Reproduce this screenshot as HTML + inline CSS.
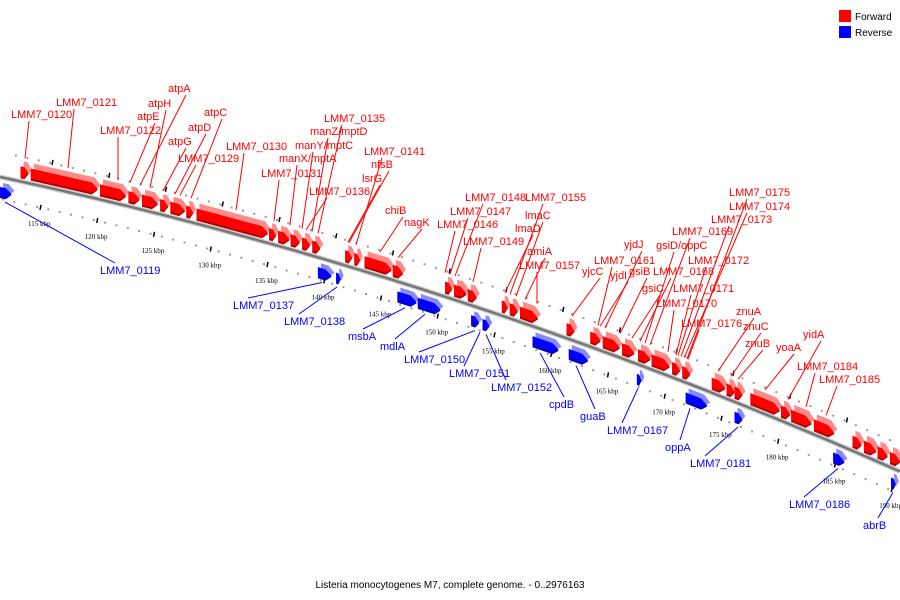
<!DOCTYPE html>
<html><head><meta charset="utf-8"><style>
body{margin:0;background:#fff;width:900px;height:600px;overflow:hidden}
svg{display:block;font-family:"Liberation Sans","DejaVu Sans",sans-serif}
</style></head><body>
<svg id="map" width="900" height="600">
<g id="legend">
<rect x="839" y="10" width="12" height="12" fill="#f00"/>
<text x="855" y="20" font-size="10">Forward</text>
<rect x="839" y="26" width="12" height="12" fill="#00f"/>
<text x="855" y="36" font-size="10">Reverse</text>
</g>
<text x="450" y="588" font-size="10" text-anchor="middle">Listeria monocytogenes M7, complete genome. - 0..2976163</text>
</svg>
<script>
// forward genes (kbp)
const fwdStart=[113.2,114.1,120.2,122.7,123.9,125.5,126.4,127.8,128.7,135.1,135.9,137.0,138.0,138.9,141.8,142.6,143.5,146.0,150.6,151.4,152.6,155.6,156.3,157.2,161.3,163.4,164.5,166.2,167.6,168.8,170.6,171.5,174.1,175.4,176.1,177.5,180.2,181.1,183.1,186.5,187.5,188.7,189.8];
const fwdEnd=[113.9,120.0,122.5,123.7,125.3,126.2,127.7,128.4,135.0,135.7,136.9,137.8,138.7,139.6,142.4,143.1,145.9,146.9,151.2,152.5,153.4,156.1,157.0,158.8,162.0,164.3,166.0,167.3,168.7,170.4,171.3,172.2,175.3,176.1,176.8,180.1,181.0,182.9,184.9,187.3,188.6,189.6,190.7];
// reverse genes (kbp)
const revStart=[111.4,139.4,141.0,146.4,148.2,152.9,153.9,158.3,161.5,167.5,171.8,176.1,184.8,189.9];
const revEnd=[112.4,140.6,141.4,148.1,150.2,153.6,154.5,160.6,163.2,167.9,173.7,176.8,185.8,190.3];
const scaleTicks=[115,120,125,130,135,140,145,150,155,160,165,170,175,180,185,190];
const fwdLabels=["LMM7_0120","LMM7_0121","atpA","atpH","atpE","LMM7_0122","atpG","atpD","atpC","LMM7_0129","LMM7_0130","LMM7_0131","manX/mptA","manY/mptC","manZ/mptD","LMM7_0135","LMM7_0141","nfsB","lsrG","LMM7_0136","chiB","nagK","LMM7_0148","LMM7_0155","LMM7_0147","lmaC","LMM7_0146","lmaD","LMM7_0149","amiA","LMM7_0157","yjcC","LMM7_0161","yjdJ","yjdI","gsiB","gsiD/oppC","LMM7_0169","LMM7_0175","LMM7_0174","LMM7_0173","LMM7_0172","LMM7_0168","gsiC","LMM7_0171","LMM7_0170","LMM7_0176","znuA","znuC","znuB","yoaA","yidA","LMM7_0184","LMM7_0185"];
const fwdLabelPos=[[11,118],[56,106],[168,92],[148,107],[137,120],[100,134],[168,145],[188,131],[204,116],[178,162],[226,150],[261,177],[279,162],[295,149],[310,135],[324,122],[364,155],[371,168],[362,182],[309,195],[385,214],[404,226],[465,201],[525,201],[450,215],[525,219],[437,228],[515,232],[463,245],[527,255],[519,269],[582,275],[594,264],[624,248],[610,279],[629,275],[656,249],[672,235],[729,196],[729,210],[711,223],[688,264],[653,275],[642,292],[673,292],[656,307],[681,327],[736,315],[743,330],[745,347],[776,351],[803,338],[797,370],[819,383]];
const fwdLabelTarget=[25,68,140,150,130,118,163,175,191,180,236,274,290,302,312,318,356,349,348,306,380,398,455,510,450,516,445,505,473,525,537,572,598,605,600,620,645,650,687,684,681,678,640,632,676,668,688,718,731,738,765,788,806,826];
const revLabels=["LMM7_0119","LMM7_0137","LMM7_0138","msbA","mdlA","LMM7_0150","LMM7_0151","LMM7_0152","cpdB","guaB","LMM7_0167","oppA","LMM7_0181","LMM7_0186","abrB"];
const revLabelPos=[[100,274],[233,309],[284,325],[348,340],[380,350],[404,363],[449,377],[491,391],[549,408],[580,420],[607,434],[665,451],[690,467],[789,508],[863,529]];
const revLabelTarget=[5,322,337,405,425,475,480,486,540,576,638,690,738,838,893];

const NS="http://www.w3.org/2000/svg";
const svg=document.getElementById('map');
function X(k){return 41+(k-115)*11.35;}
function Y(x){return 177+0.212*x+0.000128*x*x;}
function mk(tag,attrs,parent){const e=document.createElementNS(NS,tag);for(const a in attrs)e.setAttribute(a,attrs[a]);(parent||svg).appendChild(e);return e;}
const gAxis=mk('g',{});


let d='';for(let x=0;x<=900;x+=10){d+=(x?'L':'M')+x+','+Y(x).toFixed(1);}
mk('path',{d:d,stroke:'#ccc',"stroke-width":5,fill:'none'},gAxis);
mk('path',{d:d,stroke:'#777',"stroke-width":2.5,fill:'none'},gAxis);
for(let k=111;k<=191;k++){const x=X(k);if(x<0||x>900)continue;
 const y=Y(x);
 mk('rect',{x:x+8,y:y-24,width:2,height:2,fill:'#999'},gAxis);
 mk('rect',{x:x-5,y:y+20,width:2,height:2,fill:'#999'},gAxis);}
scaleTicks.forEach(k=>{const x=X(k),y=Y(x);
 const t=mk('line',{x1:x,y1:y+19,x2:x-1,y2:y+24,stroke:'#000',"stroke-width":1.5},gAxis);
 
 
 mk('line',{x1:x+12,y1:y-26,x2:x+11,y2:y-21,stroke:'#000',"stroke-width":1.5},gAxis);
 const lb=mk('text',{x:x-13,y:y+40,"font-size":7,"font-family":"Liberation Serif,serif",fill:'#000'},gAxis);
 lb.textContent=k+' kbp';
 
 
});
function gene(a,b,dir,i){
 const x1=Math.max(X(a),-2),x2=X(b);
 const g=mk('g',{});
 
 
 const tip=Math.min(6,(x2-x1)*0.5);
 const o=dir>0?[-20,-15,-3]:[6,10,21];
 const col=dir>0?['#ff8a8a','#f00','#a00']:['#8a8aff','#00f','#00a'];
 function poly(t,bt,c,dx){const xs=x2-tip;
  const p=[[x1+dx,Y(x1)+t],[xs+dx,Y(xs)+t],[x2+dx,Y(x2)+(t+bt)/2],[xs+dx,Y(xs)+bt],[x1+dx,Y(x1)+bt]];
  mk('polygon',{points:p.map(q=>q[0].toFixed(1)+','+q[1].toFixed(1)).join(' '),fill:c},g);}
 poly(o[0],o[2]-4,col[0],3);
 poly(o[1],o[2],col[2],0);
 poly(o[1],o[2]-2,col[1],0);
}
fwdStart.forEach((s,i)=>gene(s,fwdEnd[i],1,i));
revStart.forEach((s,i)=>gene(s,revEnd[i],-1,i));
fwdLabels.forEach((t,i)=>{const [lx,ly]=fwdLabelPos[i];const tx=fwdLabelTarget[i];
 const ln=mk('line',{x1:lx+18,y1:ly+3,x2:tx,y2:Y(tx)-24,stroke:'#f00',"stroke-width":1});
 
 
 const e=mk('text',{x:lx,y:ly,"font-size":11,fill:'#f00'});e.textContent=t;
 
 
});
revLabels.forEach((t,i)=>{const [lx,ly]=revLabelPos[i];const tx=revLabelTarget[i];
 const ln=mk('line',{x1:lx+15,y1:ly-11,x2:tx,y2:Y(tx)+24,stroke:'#00f',"stroke-width":1});
 
 
 const e=mk('text',{x:lx,y:ly,"font-size":11,fill:'#00f'});e.textContent=t;
 
 
});
</script>
</body></html>
